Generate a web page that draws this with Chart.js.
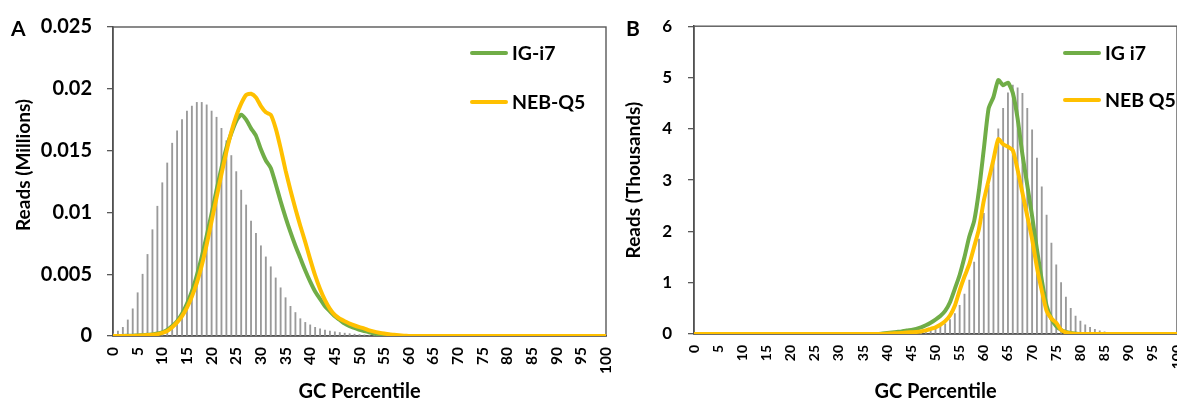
<!DOCTYPE html>
<html>
<head>
<meta charset="utf-8">
<script src="https://cdn.jsdelivr.net/npm/chart.js@4.4.0/dist/chart.umd.min.js"></script>
<style>
  body { margin: 0; width: 1177px; height: 402px; overflow: hidden; background: #fff; position: relative; font-family: Lato, sans-serif; }
  .wrap { position: absolute; top: 0; height: 402px; }
  #wrapA { left: 0; width: 615px; }
  #wrapB { left: 612px; width: 580px; }
  .tag { position: absolute; font: bold 21px Lato; line-height: 20px; color: #000; }
  .leg { position: absolute; font: bold 19.5px Lato; line-height: 20px; color: #000; white-space: nowrap; }
  .leg i { position: absolute; top: 8px; width: 38px; height: 4px; border-radius: 2px; }
</style>
</head>
<body>
<div class="wrap" id="wrapA"><canvas id="chartA" width="615" height="402"></canvas></div>
<div class="wrap" id="wrapB"><canvas id="chartB" width="580" height="402"></canvas></div>
<div class="tag" style="left:11px; top:18px;">A</div>
<div class="tag" style="left:626px; top:18px;">B</div>

<script>
// GC percentile categories (x axis)
const gcPercentile = [0,1,2,3,4,5,6,7,8,9,10,11,12,13,14,15,16,17,18,19,20,21,22,23,24,25,26,27,28,29,30,
  31,32,33,34,35,36,37,38,39,40,41,42,43,44,45,46,47,48,49,50,51,52,53,54,55,56,57,58,59,60,
  61,62,63,64,65,66,67,68,69,70,71,72,73,74,75,76,77,78,79,80,81,82,83,84,85,86,87,88,89,90,
  91,92,93,94,95,96,97,98,99,100];

// panel A - reads (millions)
const refA = [0.0002,0.0004,0.0007,0.0013,0.0022,0.0035,0.0050,0.0066,0.0086,0.0105,
  0.0124,0.0140,0.0156,0.0166,0.0175,0.0182,0.0186,0.0189,0.0189,0.0187,
  0.0182,0.0177,0.0168,0.0158,0.0146,0.0133,0.0118,0.0106,0.0093,0.0083,
  0.0073,0.0064,0.0056,0.0047,0.0039,0.0031,0.0024,0.0019,0.0014,0.0011,
  0.0009,0.0007,0.00058,0.00048,0.0004,0.00034,0.00028,0.00023,0.00019,0.00015,
  0.00012,0.00009,0.00007,0.00005,0.00003,0.00002,0,0,0,0,
  0,0,0,0,0,0,0,0,0,0, 0,0,0,0,0,0,0,0,0,0, 0,0,0,0,0,0,0,0,0,0, 0,0,0,0,0,0,0,0,0,0, 0];
const igA = [0,0,0,0.00002,0.00003,0.00005,0.00007,0.0001,0.00013,0.0002,
  0.0003,0.0005,0.0008,0.0012,0.0018,0.0026,0.0036,0.0049,0.0064,0.0081,
  0.0099,0.0118,0.0136,0.0152,0.0164,0.0174,0.0179,0.0175,0.0168,0.0162,
  0.0151,0.0142,0.0136,0.0123,0.0109,0.0096,0.0084,0.0073,0.0063,0.0053,
  0.0044,0.0036,0.003,0.0024,0.002,0.0016,0.0013,0.001,0.0008,0.00065,
  0.0005,0.0004,0.0003,0.0002,0.00013,0.00008,0.00004,0.00002,0,0,
  0,0,0,0,0,0,0,0,0,0, 0,0,0,0,0,0,0,0,0,0, 0,0,0,0,0,0,0,0,0,0, 0,0,0,0,0,0,0,0,0,0, 0];
const nebA = [0,0,0,0,0,0.00003,0.00005,0.00008,0.0001,0.00015,
  0.00025,0.0004,0.0007,0.0011,0.0016,0.0023,0.0032,0.0043,0.0057,0.0074,
  0.0093,0.0112,0.0131,0.0149,0.0165,0.0178,0.0188,0.0195,0.0196,0.0193,
  0.0186,0.0181,0.0179,0.0168,0.0152,0.0134,0.0118,0.0103,0.0089,0.0076,
  0.0062,0.0049,0.0038,0.0029,0.0022,0.0017,0.0014,0.0012,0.001,0.00085,
  0.00072,0.0006,0.00045,0.00035,0.00027,0.0002,0.00014,0.0001,0.00006,0.00003,
  0.00001,0,0,0,0,0,0,0,0,0, 0,0,0,0,0,0,0,0,0,0, 0,0,0,0,0,0,0,0,0,0, 0,0,0,0,0,0,0,0,0,0, 0];

// panel B - reads (thousands)
const refB = [0,0,0,0,0,0,0,0,0,0, 0,0,0,0,0,0,0,0,0,0, 0,0,0,0,0,0,0,0,0,0, 0,0,0,0,0,0,0,0,0,0,
  0.01,0.015,0.02,0.025,0.03,0.04,0.05,0.06,0.07,0.09,
  0.11,0.15,0.2,0.28,0.4,0.56,0.78,1.05,1.4,1.85,
  2.35,2.9,3.45,4.0,4.4,4.7,4.85,4.8,4.69,4.4,
  3.98,3.43,2.87,2.32,1.77,1.35,1.0,0.72,0.5,0.35,
  0.25,0.18,0.13,0.09,0.06,0.04,0.03,0.02,0.01,0,
  0,0,0,0,0,0,0,0,0,0,0];
const igB = [0,0,0,0,0,0,0,0,0,0, 0,0,0,0,0,0,0,0,0,0, 0,0,0,0,0,0,0,0,0,0, 0,0,0,0,0,0,0,0,0,0.01,
  0.02,0.03,0.04,0.05,0.07,0.08,0.1,0.13,0.17,0.22,
  0.28,0.35,0.45,0.62,0.88,1.15,1.5,1.9,2.2,2.8,
  3.6,4.4,4.62,4.95,4.85,4.9,4.7,4.2,3.5,2.9,
  2.3,1.65,1.05,0.55,0.3,0.15,0.08,0.04,0.02,0.01,
  0,0,0,0,0,0,0,0,0,0, 0,0,0,0,0,0,0,0,0,0,0];
const nebB = [0,0,0,0,0,0,0,0,0,0, 0,0,0,0,0,0,0,0,0,0, 0,0,0,0,0,0,0,0,0,0, 0,0,0,0,0,0,0,0,0,0,
  0.005,0.01,0.015,0.02,0.03,0.035,0.04,0.05,0.07,0.1,
  0.13,0.18,0.25,0.36,0.55,0.85,1.12,1.36,1.7,2.05,
  2.6,3.0,3.4,3.8,3.7,3.65,3.58,3.2,2.75,2.3,
  1.85,1.3,0.85,0.45,0.3,0.22,0.08,0.03,0.01,0,
  0,0,0,0,0,0,0,0,0,0, 0,0,0,0,0,0,0,0,0,0,0];

const yTicksA = ['0','0.005','0.01','0.015','0.02','0.025'];
const yTicksB = ['0','1','2','3','4','5','6'];

const GREEN = '#70AD47';
const YELLOW = '#FFC000';
const AXIS = '#404040';

// frame round the plot area, drawn under the lines
const plotBox = {
  id: 'plotBox',
  beforeDatasetsDraw(chart) {
    const { ctx, chartArea: a } = chart;
    ctx.save();
    ctx.strokeStyle = '#595959';
    ctx.lineWidth = 1.4;
    ctx.strokeRect(a.left, a.top, a.right - a.left, a.bottom - a.top);
    ctx.restore();
  }
};

function makePanel(id, p) {
  const ctx = document.getElementById(id).getContext('2d');
  return new Chart(ctx, {
    type: 'bar',
    data: {
      labels: gcPercentile,
      datasets: [
        { type: 'line', label: p.names[1], data: p.neb, borderColor: YELLOW, borderWidth: 4,
          pointRadius: 0, tension: 0.2, order: 0 },
        { type: 'line', label: p.names[0], data: p.ig, borderColor: GREEN, borderWidth: 4,
          pointRadius: 0, tension: 0.2, order: 1 },
        { type: 'bar', label: 'ref', data: p.ref, backgroundColor: '#9a9a9a',
          barThickness: 1.2, order: 2 }
      ]
    },
    options: {
      responsive: false,
      animation: false,
      layout: { padding: { left: 0, top: 26, right: p.padRight, bottom: 0 } },
      plugins: { legend: { display: false }, tooltip: { enabled: false } },
      events: [],
      scales: {
        x: {
          offset: false,
          grid: { display: false, drawTicks: false },
          border: { display: true, color: AXIS, width: 1.5 },
          ticks: {
            autoSkip: false, minRotation: 90, maxRotation: 90, padding: 11,
            color: '#000', font: { family: 'Lato', weight: 'bold', size: p.xTickSize },
            callback: function (val, i) { return i % 5 === 0 ? String(gcPercentile[i]) : ''; }
          },
          title: { display: true, text: 'GC Percentile', color: '#000',
            font: { family: 'Lato', weight: 'bold', size: 20, lineHeight: 1 }, padding: { top: 0, bottom: 0 } },
          afterFit(scale) {
            scale.height = p.xHeight;
            scale.paddingLeft = 0;
            scale.paddingRight = 0;
          }
        },
        y: {
          min: 0, max: p.max,
          grid: { drawOnChartArea: false, drawTicks: true, tickLength: 6, color: '#595959', lineWidth: 1.3 },
          border: { display: true, color: AXIS, width: 1.5 },
          ticks: {
            stepSize: p.step, padding: p.tickPad, color: '#000',
            font: { family: 'Lato', weight: 'bold', size: p.yTickSize },
            callback: (v, i) => p.yTicks[i]
          },
          title: { display: true, text: p.yTitle, color: '#000',
            font: { family: 'Lato', weight: 'bold', size: 19, lineHeight: 1 }, padding: { top: p.titlePad, bottom: 0 } },
          afterFit(scale) { scale.width = p.yWidth; }
        }
      }
    },
    plugins: [plotBox]
  });
}

function addLegend(chart, left, tops) {
  const lines = chart.data.datasets.filter(d => d.type === 'line').reverse();
  lines.forEach((d, k) => {
    const el = document.createElement('div');
    el.className = 'leg';
    el.style.left = left + 'px';
    el.style.top = (tops[k] - 10) + 'px';
    el.style.paddingLeft = '42px';
    el.innerHTML = '<i style="left:0;background:' + d.borderColor + '"></i>' + d.label;
    document.body.appendChild(el);
  });
}

const chartA = makePanel('chartA', {
  ref: refA, ig: igA, neb: nebA, names: ['IG-i7', 'NEB-Q5'],
  max: 0.025, step: 0.005, yTicks: yTicksA, yTitle: '\u2002\u2002\u2002 Reads (Millions)',
  yWidth: 113, xHeight: 66, padRight: 9, tickPad: 15, titlePad: 14.5,
  yTickSize: 20, xTickSize: 15.5
});
const chartB = makePanel('chartB', {
  ref: refB, ig: igB, neb: nebB, names: ['IG i7', 'NEB Q5'],
  max: 6, step: 1, yTicks: yTicksB, yTitle: 'Reads (Thousands)',
  yWidth: 82, xHeight: 68, padRight: 15, tickPad: 16, titlePad: 12.5,
  yTickSize: 17, xTickSize: 14
});

addLegend(chartA, 470, [53, 102]);
addLegend(chartB, 1063, [53, 100]);
</script>
</body>
</html>
